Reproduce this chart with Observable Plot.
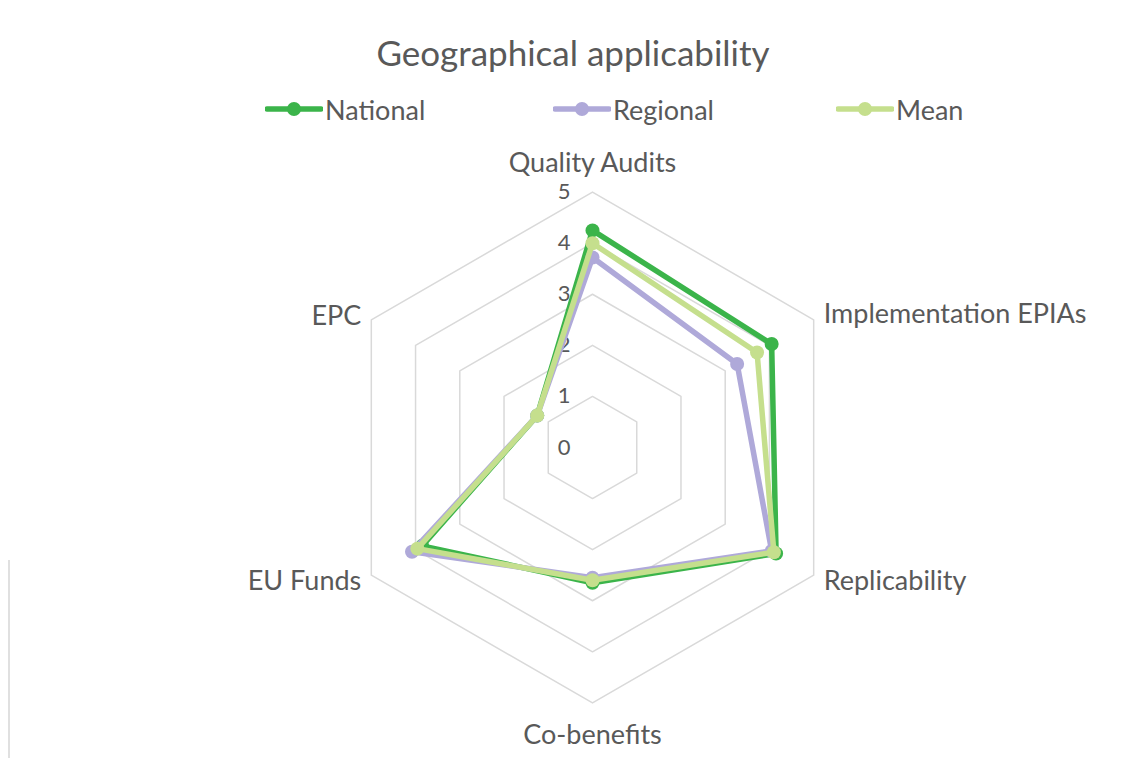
<!DOCTYPE html>
<html>
<head>
<meta charset="utf-8">
<script src="https://cdn.jsdelivr.net/npm/d3@7"></script>
<script src="https://cdn.jsdelivr.net/npm/@observablehq/plot@0.6"></script>
<style>
  html, body { margin: 0; padding: 0; background: #fff; }
  #wrap { position: relative; width: 1131px; height: 758px; overflow: hidden; font-family: Lato, "Open Sans", sans-serif; color: #595959; }
  #title { position: absolute; left: 0; width: 1146px; top: 30px; text-align: center; font-size: 35px; line-height: 44px; }
  #legend { position: absolute; top: 92px; left: 0; width: 1131px; height: 34px; }
  .item { position: absolute; top: 0; display: flex; align-items: center; font-size: 27px; height: 34px; }
  .item svg { margin-right: 2px; }
  #border { position: absolute; left: 8px; top: 560px; width: 2px; height: 198px; background: #e0e0e0; }
  #chart { position: absolute; left: 0; top: 0; }
</style>
</head>
<body>
<div id="wrap">
  <div id="border"></div>
  <div id="chart"></div>
  <div id="title">Geographical applicability</div>
  <div id="legend"></div>
</div>
<script>
const categories = ["Quality Audits", "Implementation EPIAs", "Replicability", "Co-benefits", "EU Funds", "EPC"];
const national = [4.25, 4.05, 4.15, 2.65, 3.85, 1.25];
const regional = [3.72, 3.27, 4.05, 2.55, 4.08, 1.25];
const mean     = [4.00, 3.72, 4.10, 2.60, 3.96, 1.25];
const seriesNames = ["National", "Regional", "Mean"];
const seriesColors = ["#3BB44A", "#AFA9D9", "#C5DF8D"];
const tickValues = [0, 1, 2, 3, 4, 5];
const ringLevels = [1, 2, 3, 4, 5];

const W = 1131, H = 758, CX = 592, CY = 447, U = 51.08;
const n = categories.length;
const ang = i => i * 2 * Math.PI / n;
const px = (i, r) => r * Math.sin(ang(i));
const py = (i, r) => r * Math.cos(ang(i));

const rings = ringLevels.flatMap(level => categories.map((c, i) => ({level, x: px(i, level), y: py(i, level)})));
const allSeries = [national, regional, mean];
const points = allSeries.flatMap((vals, s) => vals.map((v, i) => ({series: seriesNames[s], x: px(i, v), y: py(i, v)})));
const ticks = tickValues.map(t => ({t, x: 0, y: t}));

const labelSpec = [
  {anchor: "middle", dx: 0, dy: -29},
  {anchor: "start", dx: 10, dy: -5},
  {anchor: "start", dx: 10, dy: 6},
  {anchor: "middle", dx: 0, dy: 32},
  {anchor: "end", dx: -10, dy: 6},
  {anchor: "end", dx: -10, dy: -3}
];
const labelMarks = categories.map((c, i) => Plot.text([{c, x: px(i, 5), y: py(i, 5)}], {
  x: "x", y: "y", text: "c", textAnchor: labelSpec[i].anchor, dx: labelSpec[i].dx, dy: labelSpec[i].dy,
  fontSize: 27, fill: "#595959"
}));

const seriesMarks = seriesNames.flatMap((name, s) => {
  const data = points.filter(d => d.series === name);
  return [
    Plot.line(data, {x: "x", y: "y", curve: "linear-closed", stroke: seriesColors[s], strokeWidth: 5.5, strokeLinejoin: "round"}),
    Plot.dot(data, {x: "x", y: "y", r: 7, fill: seriesColors[s], stroke: "none"})
  ];
});

const chart = Plot.plot({
  width: W, height: H,
  marginTop: 0, marginBottom: 0, marginLeft: 0, marginRight: 0,
  x: {domain: [-CX / U, (W - CX) / U], axis: null},
  y: {domain: [-(H - CY) / U, CY / U], axis: null},
  style: {fontFamily: "Lato, 'Open Sans', sans-serif", background: "transparent"},
  marks: [
    Plot.line(rings, {x: "x", y: "y", z: "level", curve: "linear-closed", stroke: "#d9d9d9", strokeWidth: 1.5}),
    Plot.text(ticks, {x: "x", y: "y", text: "t", textAnchor: "end", dx: -22, fontSize: 22, fill: "#595959"}),
    ...seriesMarks,
    ...labelMarks
  ]
});
document.getElementById("chart").appendChild(chart);

// legend
const legendLeft = [265, 553, 836];
const legend = document.getElementById("legend");
seriesNames.forEach((name, s) => {
  const item = document.createElement("div");
  item.className = "item";
  item.style.left = legendLeft[s] + "px";
  item.innerHTML = `<svg width="58" height="20"><line x1="2" y1="10" x2="56" y2="10" stroke="${seriesColors[s]}" stroke-width="5.5" stroke-linecap="round"/><circle cx="29" cy="10" r="7" fill="${seriesColors[s]}"/></svg><span>${name}</span>`;
  legend.appendChild(item);
});
</script>
</body>
</html>
